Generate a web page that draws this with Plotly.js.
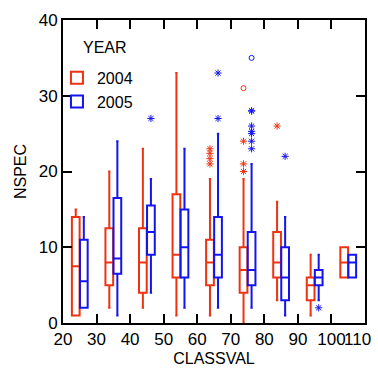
<!DOCTYPE html>
<html>
<head>
<meta charset="utf-8">
<script src="https://cdn.plot.ly/plotly-3.0.1.min.js"></script>
<style>
  html, body { margin: 0; padding: 0; background: #fff; }
  #chart { width: 378px; height: 372px; }
</style>
</head>
<body>
<div id="chart"></div>
<script>
// Class midpoints on the CLASSVAL axis
const classes = [25, 35, 45, 55, 65, 75, 85, 95, 105];

// Axis ticks; the label at the right end is set flush with the page edge separately
const xTickVals = [20, 30, 40, 50, 60, 70, 80, 90, 100, 110];
const xTickText = ['20', '30', '40', '50', '60', '70', '80', '90', '100', ''];
const xEndLabel = '110';
const yTickVals = [0, 10, 20, 30, 40];

// Box statistics per class, YEAR 2004
const q1_2004     = [1, 5, 4, 6, 5, 4, 6, 3, 6];
const median_2004 = [7.5, 8, 8, 9, 8, 7, 8, 5, 8];
const q3_2004     = [14, 12.5, 12.5, 17, 11, 10, 12, 6, 10];
const lower_2004  = [1, 2, 2, 1, 1, 0, 3, 1, 6];
const upper_2004  = [15, 20, 23, 33, 19, 19, 16, 9, 10];

// Box statistics per class, YEAR 2005
const q1_2005     = [2, 6.5, 9, 6, 6, 5, 3, 5, 6];
const median_2005 = [5.5, 8.5, 12, 10, 9, 7, 6, 6, 8];
const q3_2005     = [11, 16.5, 15.5, 15, 14, 12, 10, 7, 9];
const lower_2005  = [2, 1, 4, 2, 2, 2, 1, 3, 6];
const upper_2005  = [14, 24, 19, 23, 25, 21, 14, 9, 9];

// Outside values (asterisks) and far-out values (circles)
const out2004_class = [65, 65, 65, 65, 75, 75, 75, 85];
const out2004_value = [23, 22.4, 21.7, 21, 24, 21, 20, 26];
const far2004_class = [75];
const far2004_value = [31];

const out2005_class = [45, 65, 65, 75, 75, 75, 75, 75, 75, 75, 85, 95];
const out2005_value = [27, 33, 27, 28, 28, 26, 25.3, 25, 24, 23, 22, 2];
const far2005_class = [75];
const far2005_value = [35];

const RED = '#ee3311';
const BLUE = '#1414ee';
const SHIFT = 1.2; // half spacing between the two grouped boxes, in CLASSVAL units
const FONT = 'Liberation Sans, Arial, sans-serif';

function boxTrace(name, color, q1, med, q3, lo, hi) {
  return {
    type: 'box', name: name, x: classes,
    q1: q1, median: med, q3: q3, lowerfence: lo, upperfence: hi,
    line: { color: color, width: 2 },
    fillcolor: 'rgba(0,0,0,0)',
    whiskerwidth: 0.3,
    hoverinfo: 'skip'
  };
}

function pointTrace(xs, ys, dx, color, symbol, size) {
  return {
    type: 'scatter', mode: 'markers', showlegend: false, hoverinfo: 'skip',
    x: xs.map(v => v + dx), y: ys,
    marker: { symbol: symbol, size: size, color: color, line: { color: color, width: 1 } }
  };
}

const data = [
  boxTrace('2004', RED, q1_2004, median_2004, q3_2004, lower_2004, upper_2004),
  boxTrace('2005', BLUE, q1_2005, median_2005, q3_2005, lower_2005, upper_2005),
  pointTrace(out2004_class, out2004_value, -SHIFT, RED, 'asterisk-open', 6),
  pointTrace(far2004_class, far2004_value, -SHIFT, RED, 'circle-open', 5),
  pointTrace(out2005_class, out2005_value, SHIFT, BLUE, 'asterisk-open', 6),
  pointTrace(far2005_class, far2005_value, SHIFT, BLUE, 'circle-open', 5)
];

const axisCommon = {
  showline: true, mirror: 'ticks', linecolor: '#000', linewidth: 2,
  ticks: 'inside', ticklen: 9, tickwidth: 2, tickcolor: '#000',
  showgrid: false, zeroline: false, tickangle: 0,
  tickfont: { family: FONT, size: 17, color: '#000' }
};

const layout = {
  width: 378, height: 372,
  margin: { l: 63, r: 13, t: 20, b: 49 },
  paper_bgcolor: '#fff', plot_bgcolor: '#fff',
  font: { family: FONT, size: 16, color: '#000' },
  boxmode: 'group', boxgap: 0.52, boxgroupgap: 0.04,
  xaxis: Object.assign({}, axisCommon, {
    range: [20, 110], tickmode: 'array', tickvals: xTickVals, ticktext: xTickText,
    title: { text: 'CLASSVAL', font: { size: 16 }, standoff: 4 }
  }),
  yaxis: Object.assign({}, axisCommon, {
    range: [0, 40], tickmode: 'array', tickvals: yTickVals,
    title: { text: 'NSPEC', font: { size: 16 }, standoff: 8 }
  }),
  showlegend: true,
  legend: {
    x: -0.02, y: 0.865, xanchor: 'left', yanchor: 'top',
    bgcolor: 'rgba(0,0,0,0)', borderwidth: 0,
    font: { size: 16 }, tracegroupgap: 0, itemwidth: 30
  },
  annotations: [
    {
      text: 'YEAR', xref: 'paper', yref: 'paper', x: 0.06, y: 0.908,
      xanchor: 'left', yanchor: 'middle', showarrow: false,
      font: { family: FONT, size: 16, color: '#000' }
    },
    {
      text: xEndLabel, xref: 'paper', yref: 'paper', x: 1, y: 0,
      xanchor: 'right', yanchor: 'top', xshift: 8, yshift: -5,
      showarrow: false, font: { family: FONT, size: 17, color: '#000' }
    }
  ]
};

Plotly.newPlot('chart', data, layout, { staticPlot: true, displayModeBar: false });
</script>
</body>
</html>
